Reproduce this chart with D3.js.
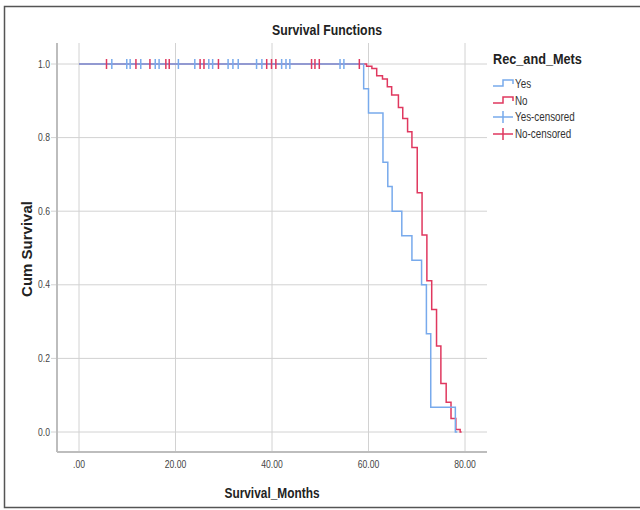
<!DOCTYPE html>
<html><head><meta charset="utf-8">
<script src="https://cdn.jsdelivr.net/npm/d3@7"></script>
<style>
html,body{margin:0;padding:0;background:#fff;}
text{font-family:"Liberation Sans",Arial,sans-serif;}
</style></head>
<body><svg id="c" width="640" height="510"></svg>
<script>
// ---- data ----
const xTicks = [0, 20, 40, 60, 80];
const xTickLabels = [".00", "20.00", "40.00", "60.00", "80.00"];
const yTicks = [0, 0.2, 0.4, 0.6, 0.8, 1.0];
const yTickLabels = ["0.0", "0.2", "0.4", "0.6", "0.8", "1.0"];
const groups = ["Yes", "No"];
const legendLabels = ["Yes", "No", "Yes-censored", "No-censored"];

const yesEventTimes = [59.0, 60.0, 63.0, 64.0, 64.9, 66.9, 69.0, 71.0, 72.0, 72.9, 78.0];
const yesSurvival   = [0.933, 0.867, 0.733, 0.667, 0.600, 0.533, 0.467, 0.400, 0.267, 0.067, 0.0];
const yesLastTime = 78.4;
const yesCensored = [6.8, 9.9, 10.6, 12.8, 15.8, 16.6, 20.6, 24.0, 26.9, 27.7, 30.9, 31.9, 33.0, 36.8, 37.9, 42.0, 42.9, 43.7, 54.1, 54.9];

const noEventTimes = [59.6, 60.7, 61.7, 62.9, 63.9, 64.8, 66.2, 67.1, 68.1, 69.0, 70.1, 71.1, 72.1, 73.1, 74.1, 75.0, 76.1, 77.1, 78.1, 79.0];
const noSurvival   = [0.994, 0.988, 0.968, 0.959, 0.938, 0.916, 0.882, 0.852, 0.816, 0.773, 0.650, 0.535, 0.411, 0.333, 0.234, 0.132, 0.081, 0.037, 0.007, 0.0];
const noLastTime = 79.3;
const noCensored = [5.7, 11.8, 14.7, 18.0, 18.7, 25.1, 25.9, 28.9, 38.9, 39.9, 40.8, 48.2, 48.9, 49.8, 58.1];

// ---- drawing ----
const svg = d3.select("#c");
const BLUE = "#78aaec", RED = "#e0385f";
const NARROW = 0.82;
const x = d3.scaleLinear().domain([0, 80]).range([79, 465]);
const y = d3.scaleLinear().domain([0, 1]).range([432, 64]);
const plotL = 57, plotR = 487, plotT = 43, plotB = 452;

// narrow text helper (condensed look)
function ntext(parent, tx, ty, str, size, opts = {}) {
  return parent.append("text")
    .attr("transform", `translate(${tx},${ty}) scale(${NARROW},1)`)
    .attr("text-anchor", opts.anchor || "start")
    .attr("font-size", size)
    .attr("font-weight", opts.bold ? "bold" : "normal")
    .attr("fill", opts.fill || "#222")
    .text(str);
}

// outer frame
svg.append("rect").attr("x", 4.5).attr("y", 6.5).attr("width", 700).attr("height", 501)
  .attr("fill", "none").attr("stroke", "#555").attr("stroke-width", 1.5);

// grid
svg.append("g").selectAll("line").data(xTicks).join("line")
  .attr("x1", d => x(d)).attr("x2", d => x(d)).attr("y1", plotT).attr("y2", plotB)
  .attr("stroke", "#d2d2d2").attr("stroke-width", 1);
svg.append("g").selectAll("line").data(yTicks).join("line")
  .attr("x1", plotL - 6).attr("x2", plotR).attr("y1", d => y(d)).attr("y2", d => y(d))
  .attr("stroke", "#d2d2d2").attr("stroke-width", 1);

// axes lines
svg.append("line").attr("x1", plotL).attr("x2", plotL).attr("y1", plotT).attr("y2", plotB)
  .attr("stroke", "#bdbdbd").attr("stroke-width", 2);
svg.append("line").attr("x1", plotL).attr("x2", plotR).attr("y1", plotB).attr("y2", plotB)
  .attr("stroke", "#bdbdbd").attr("stroke-width", 2);

// tick labels
const gx = svg.append("g");
xTicks.forEach((d, i) => ntext(gx, x(d), 468, xTickLabels[i], 10.5, {anchor: "middle", fill: "#444"}));
const gy = svg.append("g");
yTicks.forEach((d, i) => ntext(gy, 50, y(d) + 3.5, yTickLabels[i], 10.5, {anchor: "end", fill: "#444"}));

// titles
ntext(svg, 327, 35, "Survival Functions", 15, {anchor: "middle", bold: true});
ntext(svg, 272, 498, "Survival_Months", 14.5, {anchor: "middle", bold: true});
svg.append("text").attr("transform", "translate(32,249) rotate(-90)").attr("text-anchor", "middle")
  .attr("font-size", 15).attr("font-weight", "bold").attr("fill", "#222").text("Cum Survival");

// survival step curves
function stepPoints(times, surv, last) {
  const pts = [[0, 1]];
  times.forEach((t, i) => pts.push([t, surv[i]]));
  pts.push([last, surv[surv.length - 1]]);
  return pts;
}
const line = d3.line().x(d => x(d[0])).y(d => y(d[1])).curve(d3.curveStepAfter);
svg.append("path").attr("d", line(stepPoints(noEventTimes, noSurvival, noLastTime)))
  .attr("fill", "none").attr("stroke", RED).attr("stroke-width", 1.5);
svg.append("path").attr("d", line(stepPoints(yesEventTimes, yesSurvival, yesLastTime)))
  .attr("fill", "none").attr("stroke", BLUE).attr("stroke-width", 1.5);

// censored marks
function censor(data, color) {
  svg.append("g").selectAll("line").data(data).join("line")
    .attr("x1", d => x(d)).attr("x2", d => x(d)).attr("y1", y(1) - 5).attr("y2", y(1) + 5)
    .attr("stroke", color).attr("stroke-width", 1.5);
}
censor(yesCensored, BLUE);
censor(noCensored, RED);

// legend
const lg = svg.append("g");
ntext(lg, 493, 64, "Rec_and_Mets", 15.5, {bold: true});
const colors = [BLUE, RED, BLUE, RED];
const ly = [84, 101, 117, 134];
legendLabels.forEach((lab, i) => {
  if (i < 2) {
    lg.append("path").attr("d", `M493,${ly[i]+2}H503V${ly[i]-4}H513V${ly[i]}`)
      .attr("fill", "none").attr("stroke", colors[i]).attr("stroke-width", 1.5);
  } else {
    lg.append("path").attr("d", `M493,${ly[i]}H513M503,${ly[i]-6}V${ly[i]+6}`)
      .attr("fill", "none").attr("stroke", colors[i]).attr("stroke-width", 1.5);
  }
  ntext(lg, 515, ly[i] + 4, lab, 12, {fill: "#333"});
});
</script>
</body></html>
